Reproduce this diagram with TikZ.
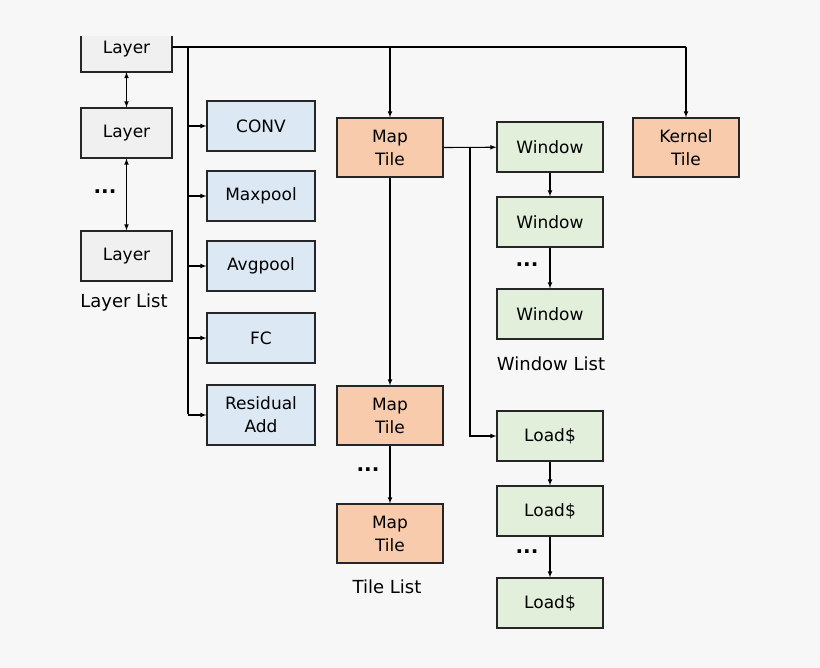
\documentclass[tikz,border=0pt]{standalone}
\usepackage{fontspec}
\setmainfont{DejaVu Sans}
\begin{document}
\begin{tikzpicture}[x=1pt,y=-1pt,font=\fontsize{17}{23}\selectfont,
 bx/.style={draw=black!85,line width=1.1pt,align=center,inner sep=0pt},
 gr/.style={bx,fill={rgb,255:red,240;green,240;blue,240},minimum width=91pt,minimum height=50pt},
 bl/.style={bx,fill={rgb,255:red,220;green,233;blue,245},minimum width=108pt,minimum height=50pt},
 og/.style={bx,fill={rgb,255:red,248;green,203;blue,173},minimum width=106pt,minimum height=59pt},
 gn/.style={bx,fill={rgb,255:red,226;green,239;blue,218},minimum width=106pt,minimum height=50pt},
 ar/.style={-latex,line width=1.1pt},
 dd/.style={font=\fontsize{20}{20}\selectfont\bfseries},
 lbl/.style={font=\fontsize{18}{20}\selectfont}]
\fill[white!97!black] (0,0) rectangle (820,668);
\useasboundingbox (0,0) rectangle (820,668);
\begin{scope}
\clip (0,37) rectangle (820,668);
\node[gr] (l1) at (126.5,47) {};
\end{scope}
\node at (126.5,49) {Layer};
\node[gr] (l2) at (126.5,133) {Layer};
\node[gr] (l3) at (126.5,256) {Layer};
\node[dd] (d0) at (105,192) {...};
\node[lbl] (ll) at (124,303) {Layer List};
\draw[latex-latex,line width=1.1pt] (126.5,72) -- (l2);
\draw[latex-latex,line width=1.1pt] (l2) -- (l3);
\node[bl] (c1) at (261,126) {CONV};
\node[bl] (c2) at (261,196) {Maxpool};
\node[bl] (c3) at (261,266) {Avgpool};
\node[bl] (c4) at (261,338) {FC};
\node[bl,minimum height=60pt] (c5) at (261,415) {Residual\\Add};
\coordinate (t0) at (172,47);
\draw[line width=2pt] (188,47) -- (188,414);
\foreach \c in {c1,c2,c3,c4,c5} \draw[ar] (188,0 |- \c) -- (\c);
\node[og] (m1) at (390,147.5) {Map\\Tile};
\node[og] (k) at (686,147.5) {Kernel\\Tile};
\draw[line width=1.1pt] (t0) -- (686,47);
\draw[ar] (390,47) -- (m1);
\draw[ar] (686,47) -- (k);
\node[og] (m2) at (390,415.5) {Map\\Tile};
\node[og] (m3) at (390,533.5) {Map\\Tile};
\node[dd] at (368,470) {...};
\node[lbl] at (387,587) {Tile List};
\draw[ar] (m1) -- (m2);
\draw[ar] (m2) -- (m3);
\node[gn] (w1) at (550,147) {Window};
\node[gn] (w2) at (550,222) {Window};
\node[gn] (w3) at (550,314) {Window};
\node[dd] at (527,265) {...};
\node[lbl] at (551,364) {Window List};
\draw[ar] (w1) -- (w2);
\draw[ar] (w2) -- (w3);
\node[gn] (d1) at (550,436) {Load\$};
\node[gn] (d2) at (550,511) {Load\$};
\node[gn] (d3) at (550,603) {Load\$};
\node[dd] at (527,552) {...};
\draw[ar] (d1) -- (d2);
\draw[ar] (d2) -- (d3);
\draw[ar] (m1.east) -- (w1);
\draw[ar] (470,147) -- (470,436) -- (d1);
\end{tikzpicture}
\end{document}
